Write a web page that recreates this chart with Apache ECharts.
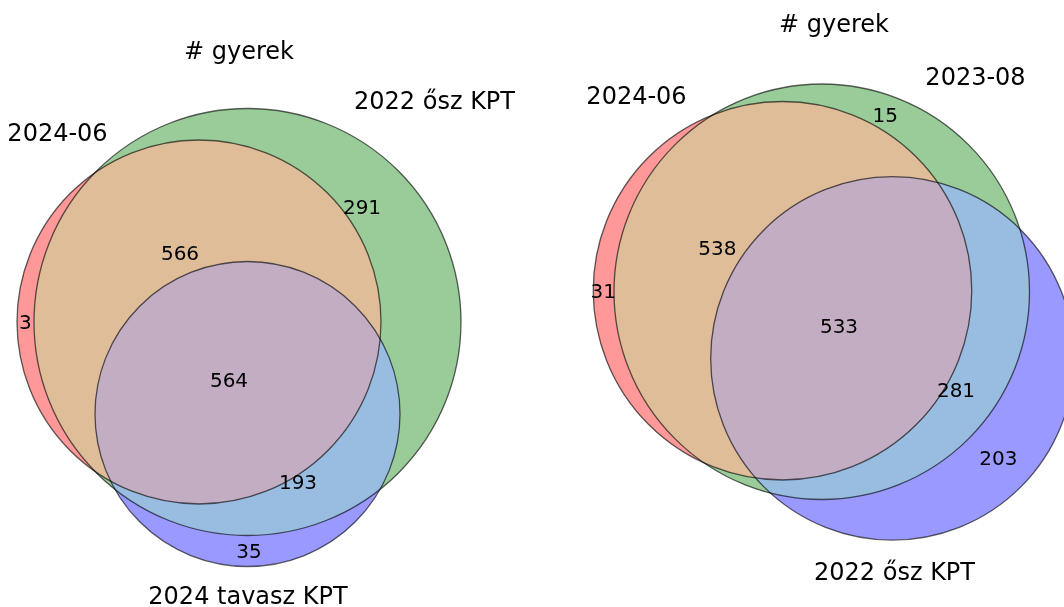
<!DOCTYPE html>
<html>
<head>
<meta charset="utf-8">
<script src="https://cdn.jsdelivr.net/npm/echarts@6/dist/echarts.min.js"></script>
<style>
html, body { margin: 0; padding: 0; background: #ffffff; }
#chart { width: 1064px; height: 607px; }
</style>
</head>
<body>
<div id="chart"></div>
<script>
// ---------------- DATA ----------------
const chartTitle = '# gyerek';

// Subset order (matplotlib-venn): A only, B only, A∩B, C only, A∩C, B∩C, A∩B∩C
const leftSetNames = ['2024-06', '2022 ősz KPT', '2024 tavasz KPT'];
const leftSubsets = [3, 291, 566, 35, 0, 193, 564];
// Venn layout in diagram units: [centerX, centerY, radius] for A, B, C
const leftCircles = [[-0.335, -0.0925, 0.91], [-0.0925, -0.0925, 1.0675], [-0.0925, -0.5525, 0.7625]];
// label anchor points in diagram units (null = not shown)
const leftSubsetLabelPos = [[-1.2035, -0.0975], [0.48, 0.4775], [-0.43, 0.25], [-0.085, -1.2425], null, [0.16, -0.895], [-0.185, -0.3875]];
const leftSetLabelPos = [[-1.0425, 0.855], [0.8425, 1.015], [-0.09, -1.4625]];

const rightSetNames = ['2024-06', '2023-08', '2022 ősz KPT'];
const rightSubsets = [31, 15, 538, 203, 0, 281, 533];
const rightCircles = [[-0.0775, 0.06375, 0.94625], [0.11875, 0.05875, 1.03875], [0.472, -0.2745, 0.9085]];
const rightSubsetLabelPos = [[-0.9735, 0.059], [0.4365, 0.9375], [-0.4035, 0.276], [1.0015, -0.7775], null, [0.79, -0.4375], [0.205, -0.116]];
const rightSetLabelPos = [[-0.8075, 1.04], [0.8875, 1.135], [0.4825, -1.3425]];

// ---------------- STYLE ----------------
// region colours (set colours r, g, b mixed, alpha 0.4 over white)
const regionColors = ['#ff9999', '#99cc99', '#e0bd99', '#9999ff', '#e099e0', '#99bde0', '#c2adc2'];
const FONT = '"DejaVu Sans", "Liberation Sans", sans-serif';
const SUBSET_NUDGE = 1;   // px, vertical text nudge
const SET_NUDGE = 2;

function makeRender(circles, subsets, subsetPos, setNames, setPos) {
  return function (params, api) {
    const C = circles.map(function (c) {
      const p = api.coord([c[0], c[1]]);
      const r = api.size([c[2], 0])[0];
      return { cx: p[0], cy: p[1], r: r };
    });
    function circ(c, style, extra) {
      return Object.assign({ type: 'circle', shape: { cx: c.cx, cy: c.cy, r: c.r }, style: style }, extra || {});
    }
    function clip(c) {
      return { type: 'circle', shape: { cx: c.cx, cy: c.cy, r: c.r } };
    }
    const children = [];
    children.push(circ(C[0], { fill: regionColors[0] }));
    children.push(circ(C[1], { fill: regionColors[1] }));
    children.push(circ(C[2], { fill: regionColors[3] }));
    children.push(circ(C[0], { fill: regionColors[2] }, { clipPath: clip(C[1]) }));
    children.push(circ(C[0], { fill: regionColors[4] }, { clipPath: clip(C[2]) }));
    children.push(circ(C[1], { fill: regionColors[5] }, { clipPath: clip(C[2]) }));
    children.push({
      type: 'group',
      clipPath: clip(C[1]),
      children: [circ(C[0], { fill: regionColors[6] }, { clipPath: clip(C[2]) })]
    });
    C.forEach(function (c) {
      children.push(circ(c, { fill: 'none', stroke: 'rgba(0,0,0,0.62)', lineWidth: 1.3 }));
    });
    subsets.forEach(function (v, i) {
      if (!subsetPos[i] || !v) return;
      const p = api.coord(subsetPos[i]);
      children.push({
        type: 'text', x: p[0], y: p[1] + SUBSET_NUDGE,
        style: { text: String(v), fill: '#000', font: '20px ' + FONT,
                 align: 'center', verticalAlign: 'middle', textAlign: 'center', textVerticalAlign: 'middle' }
      });
    });
    setNames.forEach(function (name, i) {
      const p = api.coord(setPos[i]);
      children.push({
        type: 'text', x: p[0], y: p[1] + SET_NUDGE,
        style: { text: name, fill: '#000', font: '24px ' + FONT,
                 align: 'center', verticalAlign: 'middle', textAlign: 'center', textVerticalAlign: 'middle' }
      });
    });
    return { type: 'group', children: children };
  };
}

const chart = echarts.init(document.getElementById('chart'), null, { renderer: 'canvas' });
const axisX = { type: 'value', min: -1.33, max: 1.33, show: false };
const axisY = { type: 'value', min: -1.5175, max: 1.5175, show: false };

chart.setOption({
  animation: false,
  backgroundColor: '#ffffff',
  title: [
    { text: chartTitle, left: 239, top: 40.5, textAlign: 'center', padding: 0,
      textStyle: { fontFamily: FONT, fontSize: 24, fontWeight: 'normal', color: '#000' } },
    { text: chartTitle, left: 834, top: 14, textAlign: 'center', padding: 0,
      textStyle: { fontFamily: FONT, fontSize: 24, fontWeight: 'normal', color: '#000' } }
  ],
  grid: [
    { left: 0, top: 0, width: 532, height: 607 },
    { left: 532, top: 0, width: 532, height: 607 }
  ],
  xAxis: [Object.assign({ gridIndex: 0 }, axisX), Object.assign({ gridIndex: 1 }, axisX)],
  yAxis: [Object.assign({ gridIndex: 0 }, axisY), Object.assign({ gridIndex: 1 }, axisY)],
  series: [
    { type: 'custom', xAxisIndex: 0, yAxisIndex: 0, data: [[0, 0]], clip: false, silent: true,
      renderItem: makeRender(leftCircles, leftSubsets, leftSubsetLabelPos, leftSetNames, leftSetLabelPos) },
    { type: 'custom', xAxisIndex: 1, yAxisIndex: 1, data: [[0, 0]], clip: false, silent: true,
      renderItem: makeRender(rightCircles, rightSubsets, rightSubsetLabelPos, rightSetNames, rightSetLabelPos) }
  ]
});
</script>
</body>
</html>
